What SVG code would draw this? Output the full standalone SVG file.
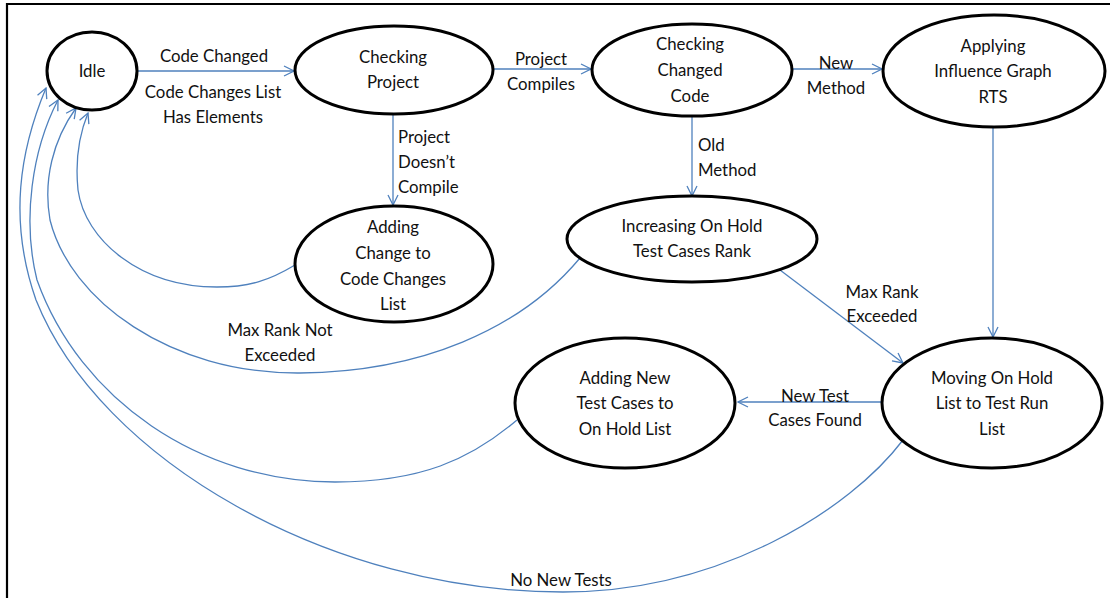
<svg xmlns="http://www.w3.org/2000/svg" width="1110" height="598" viewBox="0 0 1110 598">
<style>
  .node ellipse { fill: #fff; stroke: #000; stroke-width: 3; }
  text { font-family: Lato, "Liberation Sans", sans-serif; font-size: 16.8px; fill: #111; text-anchor: middle; }
  .lbl text.l { text-anchor: start; }
  .conn path { fill: none; stroke: #4f81bd; stroke-width: 1.3; }
</style>
<defs>
  <marker id="arr" viewBox="0 0 12 12" refX="11" refY="6" markerWidth="12" markerHeight="12" markerUnits="userSpaceOnUse" orient="auto">
    <path d="M1,1 L11,6 L1,11" fill="none" stroke="#4f81bd" stroke-width="1.3"/>
  </marker>
</defs>
<rect width="1110" height="598" fill="#fff"/>
<path d="M7,598 L7,4 L1110,4" fill="none" stroke="#000" stroke-width="2.2"/>

<g class="conn">
  <path d="M137,71 L294,71" marker-end="url(#arr)"/>
  <path d="M493,69 L591,69" marker-end="url(#arr)"/>
  <path d="M792,69 L882,69" marker-end="url(#arr)"/>
  <path d="M393,114 L393,205" marker-end="url(#arr)"/>
  <path d="M692,116 L692,196" marker-end="url(#arr)"/>
  <path d="M993,127 L993,337" marker-end="url(#arr)"/>
  <path d="M780,270 L903,363" marker-end="url(#arr)"/>
  <path d="M882,402 L738,402" marker-end="url(#arr)"/>
  <path d="M295,265 C270,280 250,287 217,287 C140,287 85,240 78,190 C75,160 79,135 88,113" marker-end="url(#arr)"/>
  <path d="M580,258 C520,330 420,372 300,373 C170,374 70,300 50,220 C43,180 53,140 76,108" marker-end="url(#arr)"/>
  <path d="M517,420 C470,460 420,482 335,482 C200,482 80,400 37,280 C22,220 32,150 58,100" marker-end="url(#arr)"/>
  <path d="M903,440 C850,510 720,592 563,592 C330,592 100,460 36,300 C8,220 20,150 46,88" marker-end="url(#arr)"/>
</g>

<g id="idle" class="node">
  <ellipse cx="92" cy="71" rx="45" ry="39"/>
  <text x="92" y="77">Idle</text>
</g>
<g id="checking-project" class="node">
  <ellipse cx="394" cy="70" rx="99" ry="44"/>
  <text x="393" y="63">Checking</text>
  <text x="393" y="88">Project</text>
</g>
<g id="checking-changed-code" class="node">
  <ellipse cx="692" cy="70" rx="100" ry="46"/>
  <text x="690" y="50">Checking</text>
  <text x="690" y="76">Changed</text>
  <text x="690" y="102">Code</text>
</g>
<g id="applying-rts" class="node">
  <ellipse cx="994" cy="71" rx="111" ry="56"/>
  <text x="993" y="52">Applying</text>
  <text x="993" y="77">Influence Graph</text>
  <text x="993" y="103">RTS</text>
</g>
<g id="adding-change" class="node">
  <ellipse cx="394" cy="264" rx="99" ry="58"/>
  <text x="393" y="233">Adding</text>
  <text x="393" y="259">Change to</text>
  <text x="393" y="285">Code Changes</text>
  <text x="393" y="310">List</text>
</g>
<g id="increasing-rank" class="node">
  <ellipse cx="692" cy="239" rx="125" ry="43"/>
  <text x="692" y="232">Increasing On Hold</text>
  <text x="692" y="257">Test Cases Rank</text>
</g>
<g id="adding-new-tests" class="node">
  <ellipse cx="625" cy="403" rx="110" ry="65"/>
  <text x="625" y="384">Adding New</text>
  <text x="625" y="409">Test Cases to</text>
  <text x="625" y="435">On Hold List</text>
</g>
<g id="moving-on-hold" class="node">
  <ellipse cx="992" cy="403" rx="110" ry="65"/>
  <text x="992" y="384">Moving On Hold</text>
  <text x="992" y="409">List to Test Run</text>
  <text x="992" y="435">List</text>
</g>

<g class="lbl">
  <text x="214" y="62">Code Changed</text>
  <text x="213" y="98">Code Changes List</text>
  <text x="213" y="123">Has Elements</text>
  <text x="541" y="65">Project</text>
  <text x="541" y="90">Compiles</text>
  <text x="836" y="69">New</text>
  <text x="836" y="94">Method</text>
  <text class="l" x="398" y="143">Project</text>
  <text class="l" x="398" y="168">Doesn’t</text>
  <text class="l" x="398" y="193">Compile</text>
  <text class="l" x="698" y="151">Old</text>
  <text class="l" x="698" y="176">Method</text>
  <text x="882" y="298">Max Rank</text>
  <text x="882" y="322">Exceeded</text>
  <text x="280" y="336">Max Rank Not</text>
  <text x="280" y="361">Exceeded</text>
  <text x="815" y="402">New Test</text>
  <text x="815" y="426">Cases Found</text>
  <text x="561" y="586">No New Tests</text>
</g>
</svg>
